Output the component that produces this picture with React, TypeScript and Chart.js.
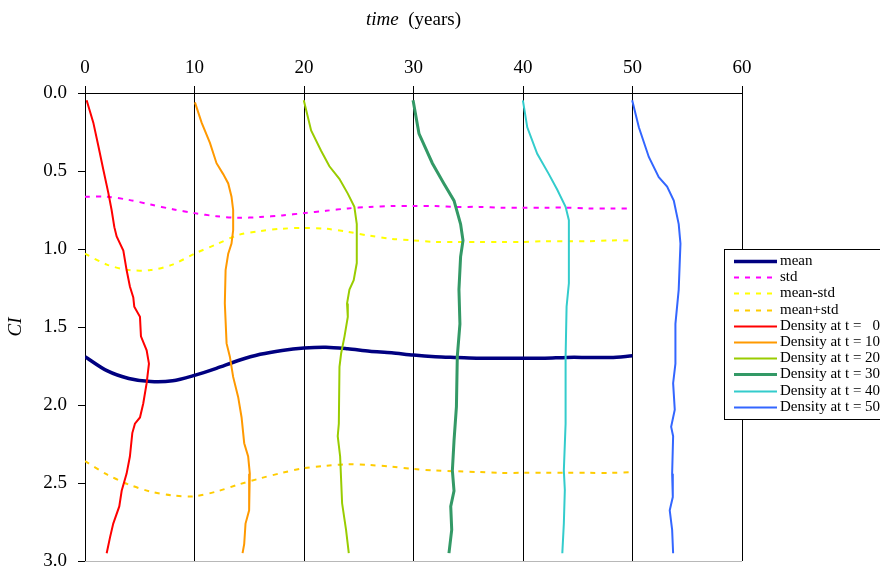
import { useEffect, useRef } from 'react';
import { Chart, registerables } from 'chart.js';

Chart.register(...registerables);

// ---- data ----
const xTickValues = [0, 10, 20, 30, 40, 50, 60];
const yTickValues = [0, 0.5, 1, 1.5, 2, 2.5, 3];

const timeGrid = [0, 2, 4, 6, 8, 10, 12, 14, 16, 18, 20, 22, 24, 26, 28, 30, 32, 34, 36, 38, 40, 42, 44, 46, 48, 50];
const meanValues = [1.69, 1.78, 1.83, 1.85, 1.845, 1.81, 1.765, 1.715, 1.675, 1.65, 1.635, 1.63, 1.64, 1.655, 1.665, 1.68, 1.69, 1.695, 1.7, 1.7, 1.7, 1.7, 1.695, 1.695, 1.695, 1.685];
const stdValues = [0.665, 0.665, 0.685, 0.715, 0.745, 0.77, 0.79, 0.8, 0.795, 0.785, 0.77, 0.755, 0.74, 0.73, 0.725, 0.725, 0.725, 0.73, 0.73, 0.735, 0.735, 0.735, 0.735, 0.74, 0.74, 0.74];
const meanMinusStdValues = [1.03, 1.1, 1.135, 1.135, 1.1, 1.03, 0.97, 0.91, 0.885, 0.87, 0.865, 0.87, 0.89, 0.915, 0.935, 0.945, 0.955, 0.955, 0.955, 0.955, 0.955, 0.95, 0.95, 0.95, 0.945, 0.945];
const meanPlusStdValues = [2.36, 2.445, 2.51, 2.555, 2.58, 2.585, 2.555, 2.51, 2.47, 2.435, 2.405, 2.39, 2.38, 2.385, 2.395, 2.41, 2.42, 2.425, 2.43, 2.435, 2.435, 2.435, 2.435, 2.435, 2.435, 2.43];

const density0X = [0.15, 0.76, 1.22, 1.67, 2.13, 2.43, 2.68, 2.89, 3.5, 3.8, 4.1, 4.41, 4.5, 5.02, 5.11, 5.63, 5.84, 5.63, 5.32, 5.02, 4.56, 4.32, 4.1, 3.8, 3.35, 3.13, 2.58, 2.28, 1.98];
const density0CI = [0.047, 0.19, 0.34, 0.49, 0.64, 0.75, 0.86, 0.92, 1.01, 1.135, 1.24, 1.31, 1.37, 1.435, 1.56, 1.65, 1.735, 1.86, 1.99, 2.08, 2.12, 2.18, 2.33, 2.44, 2.55, 2.65, 2.76, 2.85, 2.95];

const density10X = [10.04, 10.65, 11.41, 12.01, 12.62, 13.08, 13.38, 13.53, 13.53, 13.38, 13.08, 12.84, 12.77, 12.93, 13.23, 13.53, 13.99, 14.3, 14.54, 14.9, 15.05, 14.99, 14.66, 14.54, 14.39];
const density10CI = [0.06, 0.19, 0.32, 0.45, 0.52, 0.58, 0.665, 0.75, 0.88, 0.965, 1.03, 1.135, 1.35, 1.605, 1.69, 1.82, 1.95, 2.08, 2.245, 2.33, 2.44, 2.675, 2.76, 2.89, 2.95];

const density20X = [19.98, 20.65, 21.56, 22.32, 23.23, 24.0, 24.6, 24.82, 24.82, 24.54, 24.15, 23.93, 24.0, 23.7, 23.39, 23.24, 23.18, 23.08, 23.3, 23.48, 23.84, 24.09];
const density20CI = [0.047, 0.24, 0.37, 0.47, 0.55, 0.645, 0.73, 0.84, 1.09, 1.2, 1.26, 1.35, 1.435, 1.56, 1.67, 1.755, 2.12, 2.2, 2.33, 2.63, 2.8, 2.95];

const density30X = [29.96, 30.5, 31.72, 32.77, 33.7, 34.3, 34.52, 34.3, 34.15, 34.24, 34.0, 33.92, 33.7, 33.55, 33.7, 33.4, 33.49, 33.24];
const density30CI = [0.047, 0.26, 0.45, 0.58, 0.69, 0.84, 0.945, 1.05, 1.26, 1.48, 1.69, 2.01, 2.23, 2.42, 2.55, 2.65, 2.8, 2.95];

const density40X = [39.99, 40.39, 41.3, 42.36, 43.13, 43.89, 44.19, 44.19, 43.98, 43.89, 43.89, 43.73, 43.82, 43.73, 43.59];
const density40CI = [0.047, 0.22, 0.39, 0.52, 0.62, 0.73, 0.815, 1.22, 1.37, 1.69, 2.12, 2.42, 2.545, 2.76, 2.95];

const density50X = [49.97, 50.58, 51.49, 52.4, 53.16, 53.77, 54.22, 54.38, 54.22, 53.92, 53.92, 53.71, 53.86, 53.53, 53.71, 53.62, 53.68, 53.4, 53.62, 53.71];
const density50CI = [0.047, 0.22, 0.41, 0.54, 0.6, 0.69, 0.84, 0.965, 1.26, 1.48, 1.735, 1.86, 2.03, 2.14, 2.2, 2.44, 2.59, 2.675, 2.8, 2.95];

const seriesLabels = [
  'mean',
  'std',
  'mean-std',
  'mean+std',
  'Density at t =   0',
  'Density at t = 10',
  'Density at t = 20',
  'Density at t = 30',
  'Density at t = 40',
  'Density at t = 50',
];

const xTitleItalic = 'time';
const xTitleRest = '  (years)';
const yTitle = 'CI';

// ---- helpers ----
const zip = (xs: number[], ys: number[]) => xs.map((x, i) => ({ x, y: ys[i] }));

const SERIF = "'Liberation Serif', 'DejaVu Serif', serif";

const decorPlugin = {
  id: 'decor',
  afterDraw(chart: any) {
    const { ctx, chartArea } = chart;
    ctx.save();
    // bottom border of plot area
    ctx.strokeStyle = '#b8b8b8';
    ctx.lineWidth = 1;
    ctx.beginPath();
    ctx.moveTo(chartArea.left, Math.round(chartArea.bottom) + 0.5);
    ctx.lineTo(chartArea.right, Math.round(chartArea.bottom) + 0.5);
    ctx.stroke();

    // x title
    ctx.fillStyle = '#000';
    ctx.textBaseline = 'middle';
    ctx.font = `italic 19px ${SERIF}`;
    const w1 = ctx.measureText(xTitleItalic).width;
    ctx.font = `19px ${SERIF}`;
    const w2 = ctx.measureText(xTitleRest).width;
    const cx = (chartArea.left + chartArea.right) / 2;
    const x0 = cx - (w1 + w2) / 2;
    ctx.textAlign = 'left';
    ctx.font = `italic 19px ${SERIF}`;
    ctx.fillText(xTitleItalic, x0, 20);
    ctx.font = `19px ${SERIF}`;
    ctx.fillText(xTitleRest, x0 + w1, 20);

    // y title
    ctx.save();
    ctx.translate(16, (chartArea.top + chartArea.bottom) / 2);
    ctx.rotate(-Math.PI / 2);
    ctx.textAlign = 'center';
    ctx.textBaseline = 'middle';
    ctx.font = `italic 19px ${SERIF}`;
    ctx.fillText(yTitle, 0, 0);
    ctx.restore();

    // legend
    const lx = 724.5;
    const ly = 249.5;
    ctx.fillStyle = '#fff';
    ctx.fillRect(lx, ly, 200, 170);
    ctx.strokeStyle = '#000';
    ctx.lineWidth = 1;
    ctx.strokeRect(lx, ly, 200, 170);
    const datasets = chart.data.datasets;
    ctx.font = `15px ${SERIF}`;
    ctx.textAlign = 'left';
    ctx.textBaseline = 'middle';
    datasets.forEach((ds: any, i: number) => {
      const y = 261 + i * 16.2;
      ctx.save();
      ctx.strokeStyle = ds.borderColor;
      ctx.lineWidth = ds.borderWidth;
      ctx.setLineDash(ds.borderDash || []);
      ctx.beginPath();
      ctx.moveTo(734, Math.round(y) + 0.5);
      ctx.lineTo(777, Math.round(y) + 0.5);
      ctx.stroke();
      ctx.restore();
      ctx.fillStyle = '#000';
      ctx.fillText(ds.label, 780, y);
    });
    ctx.restore();
  },
};

export default function App() {
  const canvasRef = useRef<HTMLCanvasElement | null>(null);

  useEffect(() => {
    if (!canvasRef.current) return;
    const dashed = [5, 6];
    const densitySeries = [
      { label: seriesLabels[4], data: zip(density0X, density0CI), color: '#FF0000', width: 2 },
      { label: seriesLabels[5], data: zip(density10X, density10CI), color: '#FF9900', width: 2 },
      { label: seriesLabels[6], data: zip(density20X, density20CI), color: '#99CC00', width: 2 },
      { label: seriesLabels[7], data: zip(density30X, density30CI), color: '#339966', width: 3 },
      { label: seriesLabels[8], data: zip(density40X, density40CI), color: '#33CCCC', width: 2 },
      { label: seriesLabels[9], data: zip(density50X, density50CI), color: '#3366FF', width: 2 },
    ];
    const chart = new Chart(canvasRef.current, {
      type: 'scatter',
      data: {
        datasets: [
          { label: seriesLabels[0], data: zip(timeGrid, meanValues), borderColor: '#000080', borderWidth: 3.5, showLine: true, pointRadius: 0, tension: 0.3, order: 2 },
          { label: seriesLabels[1], data: zip(timeGrid, stdValues), borderColor: '#FF00FF', borderWidth: 2, borderDash: dashed, showLine: true, pointRadius: 0, tension: 0.3, order: 3 },
          { label: seriesLabels[2], data: zip(timeGrid, meanMinusStdValues), borderColor: '#FFFF00', borderWidth: 2, borderDash: dashed, showLine: true, pointRadius: 0, tension: 0.3, order: 3 },
          { label: seriesLabels[3], data: zip(timeGrid, meanPlusStdValues), borderColor: '#FFCC00', borderWidth: 2, borderDash: dashed, showLine: true, pointRadius: 0, tension: 0.3, order: 3 },
          ...densitySeries.map((s) => ({
            label: s.label,
            data: s.data,
            borderColor: s.color,
            borderWidth: s.width,
            showLine: true,
            pointRadius: 0,
            tension: 0,
            order: 1,
          })),
        ] as any,
      },
      options: {
        animation: false,
        responsive: true,
        maintainAspectRatio: false,
        layout: { padding: { left: 0, top: 0, right: 138, bottom: 8 } },
        plugins: { legend: { display: false }, tooltip: { enabled: false } },
        scales: {
          x: {
            type: 'linear',
            position: 'top',
            min: 0,
            max: 60,
            afterBuildTicks: (s: any) => {
              s.ticks = xTickValues.map((v) => ({ value: v }));
            },
            afterFit: (s: any) => {
              s.height = 93;
              s.paddingLeft = 0;
              s.paddingRight = 0;
            },
            ticks: {
              color: '#000',
              font: { family: SERIF, size: 19 },
              padding: 7,
              maxRotation: 0,
              callback: (v: any) => String(v),
            },
            grid: { color: '#000', lineWidth: 1, drawOnChartArea: true, drawTicks: true, tickLength: 7 },
            border: { display: true, color: '#000', width: 1 },
          },
          y: {
            type: 'linear',
            reverse: true,
            min: 0,
            max: 3,
            afterBuildTicks: (s: any) => {
              s.ticks = yTickValues.map((v) => ({ value: v }));
            },
            afterFit: (s: any) => {
              s.width = 85;
              s.paddingTop = 0;
              s.paddingBottom = 0;
            },
            ticks: {
              color: '#000',
              font: { family: SERIF, size: 19 },
              padding: 11,
              callback: (v: any) => Number(v).toFixed(1),
            },
            grid: { color: '#000', lineWidth: 1, drawOnChartArea: false, drawTicks: true, tickLength: 7 },
            border: { display: true, color: '#000', width: 1 },
          },
        },
      },
      plugins: [decorPlugin],
    });
    return () => chart.destroy();
  }, []);

  return (
    <div style={{ position: 'absolute', left: 0, top: 0, width: 880, height: 569, overflow: 'hidden', background: '#fff' }}>
      <canvas ref={canvasRef} />
    </div>
  );
}
